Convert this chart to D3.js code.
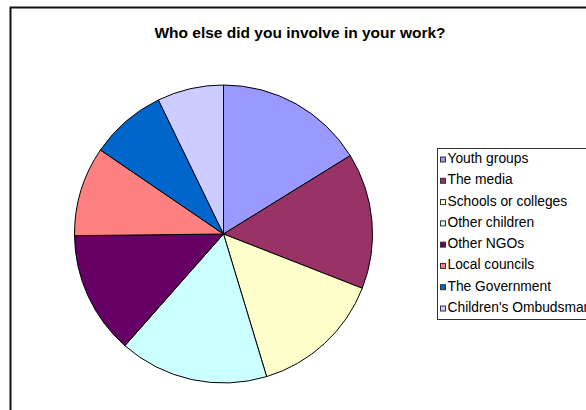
<!DOCTYPE html>
<html><head><meta charset="utf-8">
<script src="https://cdn.jsdelivr.net/npm/d3@7"></script>
<style>html,body{margin:0;padding:0;background:#fff;overflow:hidden}</style>
</head><body>
<svg id="c" width="586" height="410"></svg>
<script>
const title = "Who else did you involve in your work?";
const categories = ["Youth groups","The media","Schools or colleges","Other children","Other NGOs","Local councils","The Government","Children's Ombudsman"];
const values = [45, 41, 40, 45, 37, 27, 23, 20];
const colors = ["#9999FF","#993366","#FFFFCC","#CCFFFF","#660066","#FF8080","#0066CC","#CCCCFF"];

const svg = d3.select("#c");
svg.append("rect").attr("x",10.5).attr("y",7.5).attr("width",580).attr("height",420)
  .attr("fill","#fff").attr("stroke","#111").attr("stroke-width",2);
svg.append("text").attr("x",300).attr("y",38).attr("text-anchor","middle")
  .attr("font-family","Liberation Sans, Arial, sans-serif").attr("font-weight","bold")
  .attr("font-size",15.5).text(title);

const data = categories.map((c,i)=>({c, v: values[i]}));
const pie = d3.pie().value(d=>d.v).sort(null);
const arc = d3.arc().innerRadius(0).outerRadius(149);
const color = d3.scaleOrdinal().domain(categories).range(colors);
const g = svg.append("g").attr("transform","translate(223.5,234)");
g.selectAll("path").data(pie(data)).join("path")
  .attr("d",arc).attr("fill",d=>color(d.data.c)).attr("stroke","#000").attr("stroke-width",1)
  .attr("stroke-linejoin","round");

const lg = svg.append("g");
lg.append("rect").attr("x",437.5).attr("y",148.5).attr("width",170).attr("height",171)
  .attr("fill","#fff").attr("stroke","#333").attr("stroke-width",1);
const y = d3.scalePoint().domain(categories).range([159.5,308.5]);
const items = lg.selectAll("g.it").data(data).join("g").attr("class","it")
  .attr("transform",d=>`translate(0,${y(d.c)})`);
items.append("rect").attr("x",440.5).attr("y",-2.5).attr("width",5).attr("height",5)
  .attr("fill",d=>color(d.c)).attr("stroke","#333").attr("stroke-width",1);
items.append("text").attr("x",447.5).attr("y",3.5).attr("font-family","Liberation Sans, Arial, sans-serif")
  .attr("font-size",13.8).attr("fill","#000").text(d=>d.c);
</script>
</body></html>
